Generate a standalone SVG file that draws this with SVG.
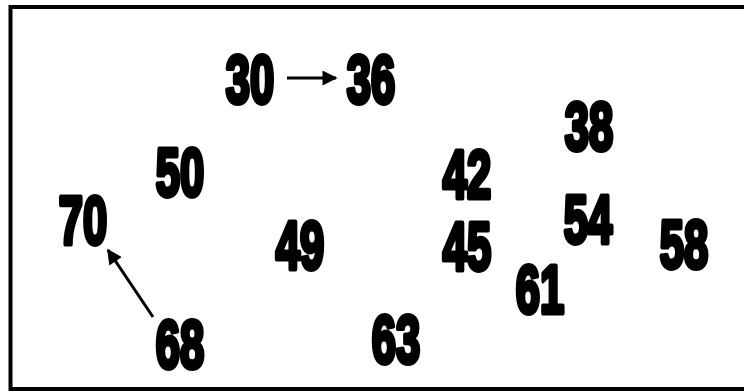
<svg xmlns="http://www.w3.org/2000/svg" width="744" height="392" viewBox="0 0 744 392">
<defs>
<marker id="ah" viewBox="0 0 10 10" refX="9" refY="5" markerWidth="5.5" markerHeight="5" markerUnits="strokeWidth" orient="auto">
<path d="M0,0 L10,5 L0,10 z" fill="#000"/>
</marker>
<style>
.n{font-family:"Liberation Sans",Arial,sans-serif;font-weight:bold;font-size:68px;fill:#000;stroke:#000;stroke-width:5;stroke-linejoin:round;text-anchor:middle}
.c{stroke:#000;stroke-width:3;fill:none}
</style>
</defs>
<rect x="0" y="0" width="744" height="392" fill="#fff"/>
<rect x="10.5" y="7" width="740" height="382" fill="none" stroke="#000" stroke-width="4"/>
<g id="connectors">
<line class="c" x1="287" y1="78" x2="336" y2="78" marker-end="url(#ah)"/>
<line class="c" x1="153" y1="317" x2="108" y2="250" marker-end="url(#ah)"/>
</g>
<g id="n30"><text class="n" transform="translate(250,103) scale(0.64,1)">30</text></g>
<g id="n36"><text class="n" transform="translate(371,103) scale(0.64,1)">36</text></g>
<g id="n38"><text class="n" transform="translate(589,150) scale(0.64,1)">38</text></g>
<g id="n50"><text class="n" transform="translate(180,196) scale(0.64,1)">50</text></g>
<g id="n42"><text class="n" transform="translate(467,198) scale(0.64,1)">42</text></g>
<g id="n70"><text class="n" transform="translate(83,244) scale(0.64,1)">70</text></g>
<g id="n49"><text class="n" transform="translate(300,269) scale(0.64,1)">49</text></g>
<g id="n45"><text class="n" transform="translate(467,270) scale(0.64,1)">45</text></g>
<g id="n54"><text class="n" transform="translate(588,243) scale(0.64,1)">54</text></g>
<g id="n58"><text class="n" transform="translate(684,268) scale(0.64,1)">58</text></g>
<g id="n61"><text class="n" transform="translate(540,313) scale(0.64,1)">61</text></g>
<g id="n68"><text class="n" transform="translate(180,368) scale(0.64,1)">68</text></g>
<g id="n63"><text class="n" transform="translate(396,363) scale(0.64,1)">63</text></g>
</svg>
